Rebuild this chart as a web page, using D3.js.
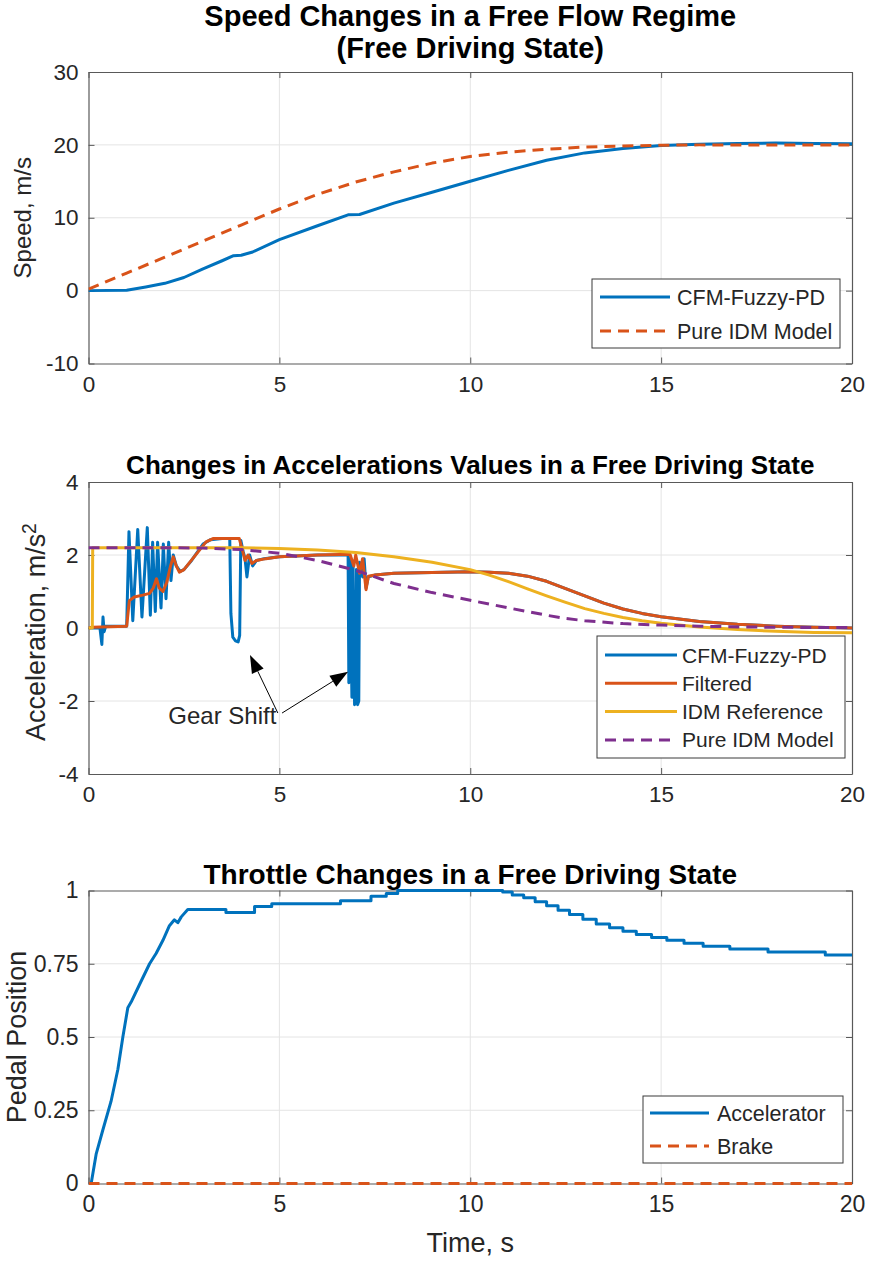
<!DOCTYPE html>
<html><head><meta charset="utf-8">
<script src="https://cdn.jsdelivr.net/npm/d3@7"></script>
<style>body{margin:0;background:#fff} svg{display:block} text{font-family:"Liberation Sans",Arial,Helvetica,sans-serif;fill:#262626}</style>
</head><body><svg id="c" width="871" height="1262"></svg>
<script>
// ---------- DATA ----------
const xTicks = [0, 5, 10, 15, 20];
const speedTicks = [-10, 0, 10, 20, 30];
const accTicks = [-4, -2, 0, 2, 4];
const pedalTicks = [0, 0.25, 0.5, 0.75, 1];
const pedalTickLabels = ["0", "0.25", "0.5", "0.75", "1"];

// Panel 1: speed
const cfmSpeedT = [0, 1.0, 1.5, 2.0, 2.5, 3.0, 3.5, 3.8, 4.0, 4.3, 5, 6, 6.8, 7.1, 8, 9, 10, 11, 12, 13, 14, 15, 16, 17, 18, 19, 20];
const cfmSpeedV = [0, 0.05, 0.5, 1.0, 1.8, 3.0, 4.1, 4.8, 4.85, 5.3, 7.0, 8.9, 10.4, 10.45, 12.0, 13.5, 15.0, 16.5, 17.9, 18.9, 19.5, 19.9, 20.1, 20.2, 20.25, 20.2, 20.15];
const idmSpeedT = [0, 1, 2, 3, 4, 5, 6, 7, 8, 9, 10, 11, 12, 13, 14, 15, 16, 18, 20];
const idmSpeedV = [0.2, 2.4, 4.6, 6.8, 9.0, 11.2, 13.2, 14.9, 16.3, 17.5, 18.4, 19.0, 19.4, 19.7, 19.85, 19.95, 20, 20, 20];

// Panel 2: acceleration
const cfmAccT = [0, 0.3, 0.35, 0.38, 0.41, 0.45, 1.0, 1.06, 1.16, 1.29, 1.40, 1.54, 1.62, 1.68, 1.75, 1.81, 1.90, 1.96, 2.03, 2.10, 2.16, 2.22, 2.3, 2.4, 2.5, 2.7, 3.0, 3.2, 3.5, 3.7, 3.73, 3.78, 3.85, 3.92, 3.96, 3.99, 4.05, 4.1, 4.15, 4.22, 4.3, 4.4, 4.6, 5, 6, 6.8, 6.82, 6.85, 6.9, 6.93, 6.97, 7.0, 7.02, 7.05, 7.08, 7.1, 7.14, 7.18, 7.22, 7.27, 7.33, 7.5, 8, 9, 10, 10.5, 11, 11.5, 12, 12.5, 13, 13.5, 14, 14.5, 15, 16, 17, 18, 19, 20];
const cfmAccV = [0, 0.0, -0.45, 0.3, -0.1, 0.05, 0.05, 2.64, 0.2, 2.7, 0.3, 2.75, 0.35, 2.35, 0.45, 2.35, 0.55, 2.3, 0.8, 2.35, 1.3, 2.0, 1.7, 1.55, 1.6, 1.85, 2.3, 2.42, 2.45, 2.45, 0.4, -0.25, -0.35, -0.38, -0.2, 2.4, 2.1, 1.9, 1.4, 2.0, 1.7, 1.85, 1.9, 1.95, 2.0, 2.0, -1.5, 1.9, -1.9, 1.8, -2.1, -2.0, 1.6, -2.1, -2.0, 1.8, 1.7, 1.4, 1.9, 1.1, 1.4, 1.45, 1.5, 1.52, 1.54, 1.53, 1.5, 1.42, 1.28, 1.08, 0.88, 0.68, 0.52, 0.4, 0.31, 0.18, 0.1, 0.05, 0.02, 0.0];
const filtAccT = [0, 0.1, 1.0, 1.07, 1.2, 1.42, 1.6, 1.7, 1.78, 1.85, 1.95, 2.05, 2.15, 2.22, 2.3, 2.38, 2.5, 2.73, 3.08, 3.26, 3.95, 4.04, 4.1, 4.18, 4.28, 4.4, 4.65, 5, 6, 6.85, 6.95, 7.0, 7.1, 7.18, 7.27, 7.33, 7.5, 8, 9, 10, 10.5, 11, 11.5, 12, 12.5, 13, 13.5, 14, 14.5, 15, 16, 17, 18, 19, 20];
const filtAccV = [0, 0.02, 0.05, 0.75, 0.85, 0.9, 0.95, 1.1, 1.35, 1.1, 1.0, 1.25, 1.7, 1.95, 1.7, 1.53, 1.6, 1.9, 2.36, 2.45, 2.45, 2.1, 1.85, 2.0, 1.77, 1.85, 1.9, 1.95, 2.0, 2.02, 1.7, 2.0, 1.5, 1.9, 1.05, 1.42, 1.45, 1.5, 1.52, 1.54, 1.53, 1.5, 1.42, 1.28, 1.08, 0.88, 0.68, 0.52, 0.4, 0.31, 0.18, 0.1, 0.05, 0.02, 0.0];
const refAccT = [0, 0.1, 0.11, 3, 4, 5, 6, 7, 8, 9, 10, 10.5, 11, 11.5, 12, 12.5, 13, 13.5, 14, 14.5, 15, 16, 17, 18, 19, 20];
const refAccV = [0, 0, 2.2, 2.2, 2.2, 2.18, 2.14, 2.07, 1.95, 1.8, 1.6, 1.45, 1.27, 1.07, 0.88, 0.7, 0.53, 0.4, 0.29, 0.2, 0.13, 0.03, -0.04, -0.09, -0.12, -0.13];
const idmAccT = [0, 2, 3, 4, 5, 6, 7, 7.5, 8, 9, 10, 11, 12, 12.5, 13, 14, 15, 16, 17, 18, 20];
const idmAccV = [2.2, 2.2, 2.19, 2.15, 2.05, 1.85, 1.58, 1.4, 1.22, 0.97, 0.76, 0.55, 0.35, 0.26, 0.2, 0.12, 0.08, 0.05, 0.03, 0.02, 0.01];

// Panel 3: pedal position
const accelRampT = [0, 0.07, 0.2, 0.37, 0.59, 0.77, 0.9, 1.03, 1.12, 1.34, 1.6, 1.77, 1.95, 2.12, 2.25, 2.34, 2.43, 2.6];
const accelRampV = [0, 0.0, 0.1, 0.18, 0.28, 0.39, 0.5, 0.6, 0.62, 0.68, 0.75, 0.785, 0.83, 0.88, 0.9, 0.89, 0.91, 0.935];
const accelStepT = [3.6, 4.35, 4.8, 6.6, 7.4, 7.8, 8.1, 10.85, 11.1, 11.4, 11.7, 12.0, 12.3, 12.6, 12.95, 13.3, 13.65, 14.0, 14.35, 14.75, 15.15, 15.6, 16.1, 16.8, 17.8, 19.3];
const accelStepV = [0.925, 0.945, 0.955, 0.965, 0.98, 0.99, 1.0, 0.995, 0.985, 0.975, 0.962, 0.948, 0.933, 0.918, 0.902, 0.886, 0.873, 0.861, 0.85, 0.84, 0.83, 0.82, 0.81, 0.8, 0.79, 0.78];
const brakeT = [0, 20];
const brakeV = [0, 0];

// ---------- STYLE ----------
const C = {blue: "#0072BD", red: "#D95319", yellow: "#EDB120", purple: "#7E2F8E"};
const X0 = 88.5, X1 = 852;
const svg = d3.select("#c");
const zip = (a, b) => a.map((t, i) => [t, b[i]]);

function panel(o) {
  const g = svg.append("g");
  const x = d3.scaleLinear().domain([0, 20]).range([X0, X1]);
  const y = d3.scaleLinear().domain(o.yDomain).range([o.bot, o.top]);
  g.selectAll(".gx").data(xTicks.slice(1, -1)).join("line")
    .attr("x1", d => x(d)).attr("x2", d => x(d)).attr("y1", o.top).attr("y2", o.bot)
    .attr("stroke", "#e4e4e4").attr("stroke-width", 1);
  g.selectAll(".gy").data(o.yTicks.slice(1, -1)).join("line")
    .attr("y1", d => y(d)).attr("y2", d => y(d)).attr("x1", X0).attr("x2", X1)
    .attr("stroke", "#e4e4e4").attr("stroke-width", 1);
  const fs = o.tickFont;
  const ax = g.append("g").attr("transform", `translate(0,${o.bot})`)
    .call(d3.axisBottom(x).tickValues(xTicks).tickSizeInner(-6).tickSizeOuter(0).tickPadding(12));
  const axT = g.append("g").attr("transform", `translate(0,${o.top})`)
    .call(d3.axisTop(x).tickValues(xTicks).tickSizeInner(-6).tickSizeOuter(0).tickFormat(""));
  const ay = g.append("g").attr("transform", `translate(${X0},0)`)
    .call(d3.axisLeft(y).tickValues(o.yTicks).tickSizeInner(-6).tickSizeOuter(0).tickPadding(10)
      .tickFormat((d, i) => o.yLabels ? o.yLabels[i] : d3.format("d")(d)));
  const ayR = g.append("g").attr("transform", `translate(${X1},0)`)
    .call(d3.axisRight(y).tickValues(o.yTicks).tickSizeInner(-6).tickSizeOuter(0).tickFormat(""));
  [ax, axT, ay, ayR].forEach(a => {
    a.select(".domain").attr("stroke", "#595959").attr("stroke-width", 1.2);
    a.selectAll(".tick line").attr("stroke", "#595959");
    a.selectAll(".tick text").attr("font-size", fs + "px").attr("fill", "#262626")
      .style("font-family", '"Liberation Sans",Arial,sans-serif');
  });
  ax.selectAll(".tick text").attr("dy", "0.72em");
  ay.selectAll(".tick text").text(function(){ return d3.select(this).text().replace("\u2212", "-"); });
  ax.selectAll(".tick text").text(function(){ return d3.select(this).text().replace("\u2212", "-"); });
  const cid = "clip" + o.id;
  svg.append("clipPath").attr("id", cid).append("rect")
    .attr("x", X0).attr("y", o.top - 2).attr("width", X1 - X0).attr("height", o.bot - o.top + 4);
  const line = d3.line().x(d => x(d[0])).y(d => y(d[1]));
  const lg = g.append("g").attr("clip-path", `url(#${cid})`);
  o.series.forEach(s => {
    lg.append("path").datum(s.data).attr("d", line).attr("fill", "none")
      .attr("stroke", s.color).attr("stroke-width", s.width || 3)
      .attr("stroke-dasharray", s.dash || null).attr("stroke-linejoin", "round");
  });
  o.title.forEach((t, i) => {
    g.append("text").attr("x", (X0 + X1) / 2).attr("y", o.titleY + i * o.titleLH)
      .attr("text-anchor", "middle").attr("font-weight", "bold").attr("font-size", o.titleFont + "px")
      .style("fill", "#000").text(t);
  });
  const yl = g.append("text").attr("transform", `translate(${o.ylabX},${o.ylabY || (o.top + o.bot) / 2}) rotate(-90)`)
    .attr("text-anchor", "middle").attr("font-size", o.ylabFont + "px");
  yl.append("tspan").text(o.ylab);
  if (o.ylabSup) yl.append("tspan").attr("dy", "-0.45em").attr("font-size", (o.ylabFont * 0.72) + "px").text(o.ylabSup);
  const L = o.legend;
  g.append("rect").attr("x", L.x).attr("y", L.y).attr("width", L.w).attr("height", L.h)
    .attr("fill", "#fff").attr("stroke", "#3a3a3a").attr("stroke-width", 1);
  L.items.forEach((it, i) => {
    const yy = L.y + L.first + i * L.step;
    g.append("line").attr("x1", L.x + L.l0).attr("x2", L.x + L.l1).attr("y1", yy).attr("y2", yy)
      .attr("stroke", it.color).attr("stroke-width", 3).attr("stroke-dasharray", it.dash || null);
    g.append("text").attr("x", L.x + L.tx).attr("y", yy).attr("dy", "0.36em")
      .attr("font-size", L.font + "px").text(it.label);
  });
  return {g, x, y};
}

const dash = "11,7";

panel({
  id: 1, top: 72, bot: 363.5, yDomain: [-10, 30], yTicks: speedTicks, tickFont: 22.5,
  title: ["Speed Changes in a Free Flow Regime", "(Free Driving State)"], titleY: 26, titleLH: 32, titleFont: 29,
  ylab: "Speed, m/s", ylabX: 31, ylabFont: 24,
  series: [
    {data: zip(cfmSpeedT, cfmSpeedV), color: C.blue},
    {data: zip(idmSpeedT, idmSpeedV), color: C.red, dash: dash}
  ],
  legend: {x: 592, y: 279, w: 248, h: 69, first: 18, step: 34, l0: 8, l1: 78, tx: 85, font: 21.5,
    items: [{label: "CFM-Fuzzy-PD", color: C.blue}, {label: "Pure IDM Model", color: C.red, dash: dash}]}
});

const p2 = panel({
  id: 2, top: 482, bot: 774, yDomain: [-4, 4], yTicks: accTicks, tickFont: 22.5,
  title: ["Changes in Accelerations Values in a Free Driving State"], titleY: 474, titleLH: 0, titleFont: 26,
  ylab: "Acceleration, m/s", ylabSup: "2", ylabX: 45, ylabY: 632, ylabFont: 27,
  series: [
    {data: zip(cfmAccT, cfmAccV), color: C.blue},
    {data: zip(filtAccT, filtAccV), color: C.red},
    {data: zip(refAccT, refAccV), color: C.yellow},
    {data: zip(idmAccT, idmAccV), color: C.purple, dash: dash}
  ],
  legend: {x: 597, y: 636, w: 248, h: 122, first: 19, step: 28.3, l0: 8, l1: 80, tx: 85, font: 21,
    items: [{label: "CFM-Fuzzy-PD", color: C.blue}, {label: "Filtered", color: C.red},
            {label: "IDM Reference", color: C.yellow}, {label: "Pure IDM Model", color: C.purple, dash: dash}]}
});
(function(){
  const {g, x, y} = p2;
  const arrows = [[[4.96, -2.33], [4.23, -0.74]], [[5.07, -2.33], [6.80, -1.20]]];
  arrows.forEach(([a, b]) => {
    const x1 = x(a[0]), y1 = y(a[1]), x2 = x(b[0]), y2 = y(b[1]);
    const ang = Math.atan2(y2 - y1, x2 - x1), L = 18, W = 6.5;
    const bx = x2 - L * Math.cos(ang), by = y2 - L * Math.sin(ang);
    g.append("line").attr("x1", x1).attr("y1", y1).attr("x2", bx).attr("y2", by).attr("stroke", "#000").attr("stroke-width", 1);
    g.append("path").attr("d", `M${x2},${y2}L${bx - W * Math.sin(ang)},${by + W * Math.cos(ang)}L${bx + W * Math.sin(ang)},${by - W * Math.cos(ang)}Z`).attr("fill", "#000");
  });
  g.append("text").attr("x", x(4.92)).attr("y", y(-2.63)).attr("text-anchor", "end").attr("font-size", "24px").text("Gear Shift");
})();

const accelData = zip(accelRampT, accelRampV);
accelStepT.forEach((t, i) => { accelData.push([t, accelData[accelData.length - 1][1]]); accelData.push([t, accelStepV[i]]); });
accelData.push([20, accelStepV[accelStepV.length - 1]]);
const p3 = panel({
  id: 3, top: 890.5, bot: 1183.5, yDomain: [0, 1], yTicks: pedalTicks, yLabels: pedalTickLabels, tickFont: 23,
  title: ["Throttle Changes in a Free Driving State"], titleY: 884, titleLH: 0, titleFont: 28,
  ylab: "Pedal Position", ylabX: 26, ylabFont: 27,
  series: [
    {data: accelData, color: C.blue},
    {data: zip(brakeT, brakeV), color: C.red, dash: dash}
  ],
  legend: {x: 643, y: 1096, w: 200, h: 67, first: 17, step: 33, l0: 7, l1: 66, tx: 74, font: 21.5,
    items: [{label: "Accelerator", color: C.blue}, {label: "Brake", color: C.red, dash: dash}]}
});
p3.g.append("text").attr("x", (X0 + X1) / 2).attr("y", 1252).attr("text-anchor", "middle").attr("font-size", "27px").text("Time, s");
</script></body></html>
